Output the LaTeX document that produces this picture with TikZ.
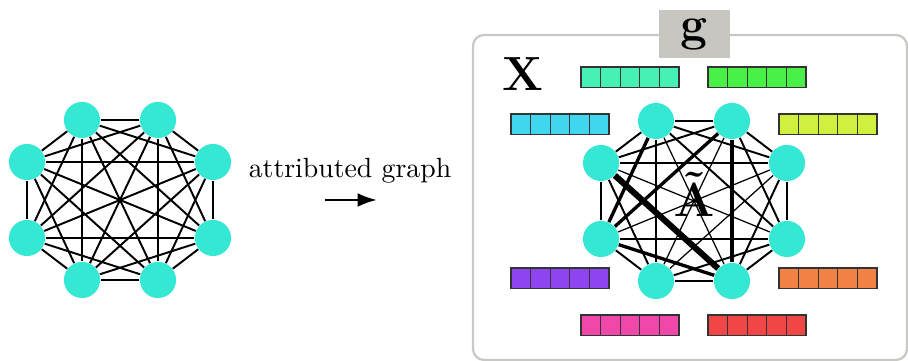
\documentclass[tikz,border=0pt]{standalone}
\usepackage{bm}
\usetikzlibrary{arrows.meta,backgrounds}
\definecolor{vtxcol}{RGB}{52,232,212}
\definecolor{framecol}{RGB}{200,200,196}
\definecolor{tagcol}{RGB}{200,198,192}
\definecolor{barteal}{RGB}{71,240,180}
\definecolor{bargreen}{RGB}{72,240,72}
\definecolor{barcyan}{RGB}{64,214,238}
\definecolor{barlime}{RGB}{208,240,64}
\definecolor{barpurple}{RGB}{142,68,240}
\definecolor{barorange}{RGB}{240,130,70}
\definecolor{barpink}{RGB}{240,72,170}
\definecolor{barred}{RGB}{240,70,70}
\begin{document}
\begin{tikzpicture}[x=0.36pt,y=-0.36pt,
  vtx/.style={circle,fill=vtxcol,inner sep=0pt,minimum size=13pt},
  edge/.style={line width=0.7pt},
  thinedge/.style={line width=0.45pt},
  boldedge/.style={line width=1.2pt},
  heavyedge/.style={line width=2.2pt},
  barcell/.style={draw=black!80,line width=0.45pt},
  frame/.style={draw=framecol,line width=0.8pt,rounded corners=4pt},
  tag/.style={fill=tagcol,inner sep=0pt,minimum width=25.6pt,minimum height=17.3pt,font=\LARGE\bfseries}]
\useasboundingbox (0,0) rectangle (908,361);

% ---- plain graph: complete graph on eight vertices ----
\foreach \n/\x/\y in {1/82/120,2/158/120,3/213/162,4/213/238,5/158/280,6/82/280,7/27/238,8/27/162}
  \node[vtx] (a\n) at (\x,\y) {};
\begin{scope}[on background layer]
  \foreach \i in {1,...,7}{
    \pgfmathtruncatemacro\k{\i+1}
    \foreach \j in {\k,...,8}
      \draw[edge] (a\i) -- (a\j);
  }
\end{scope}

% ---- arrow with caption ----
\coordinate (arrS) at (325,200);
\coordinate (arrE) at (377,200);
\draw[line width=0.9pt,-{Latex[length=7pt,width=5pt]}] (arrS) -- (arrE);
\node[anchor=base] (cap) at (350,178) {attributed graph};

% ---- attributed graph frame ----
\draw[frame] (473,35) rectangle (907,360);
\node[tag] (g) at (694.5,34) {g};
\node[font=\LARGE\bfseries] (X) at (522.5,74) {X};

% ---- weighted graph ----
\foreach \n/\x/\y in {1/656/121,2/732/121,3/787/163,4/787/239,5/732/281,6/656/281,7/601/239,8/601/163}
  \node[vtx] (b\n) at (\x,\y) {};
\begin{scope}[on background layer]
  % sides
  \foreach \i/\j in {1/2,2/3,3/4,4/5,5/6,6/7,7/8,8/1}
    \draw[edge] (b\i) -- (b\j);
  % skip-one chords
  \foreach \i/\j in {1/3,2/4,3/5,4/6,6/8,8/2}
    \draw[edge] (b\i) -- (b\j);
  \draw[boldedge] (b5) -- (b7);
  \draw[boldedge] (b7) -- (b1);
  % skip-two chords
  \foreach \i/\j in {1/4,4/7,8/3}
    \draw[edge] (b\i) -- (b\j);
  \foreach \i/\j in {3/6,6/1}
    \draw[thinedge] (b\i) -- (b\j);
  \draw[boldedge] (b2) -- (b5);
  \draw[boldedge] (b7) -- (b2);
  \draw[heavyedge] (b8) -- (b5);
  % diameters
  \foreach \i/\j in {1/5,2/6,3/7,4/8}
    \draw[thinedge] (b\i) -- (b\j);
\end{scope}
\node[anchor=base,font=\LARGE] (A) at (694,217) {$\bm{\tilde{\mathbf{A}}}$};

% ---- node feature bars ----
\foreach \x/\y/\c in {581/67/barteal,708/67/bargreen,511/114/barcyan,779/114/barlime,
                      511/268/barpurple,779/268/barorange,581/315/barpink,708/315/barred}
  \foreach \i in {0,...,4}
    \draw[barcell,fill=\c] (\x+\i*19.6,\y) rectangle ++(19.6,20.6);
\end{tikzpicture}
\end{document}
